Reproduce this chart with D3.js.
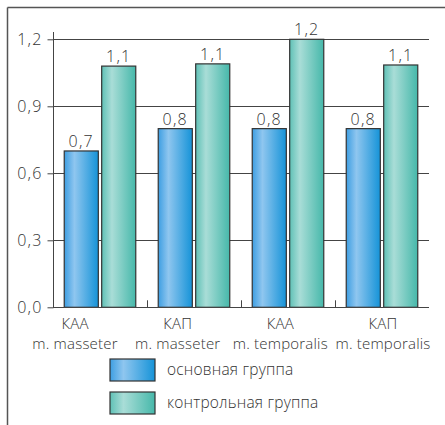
<!DOCTYPE html>
<html>
<head>
<meta charset="utf-8">
<script src="https://cdn.jsdelivr.net/npm/d3@7/dist/d3.min.js"></script>
<style>
  html, body { margin: 0; padding: 0; background: #fff; }
  svg { display: block; }
  text { font-family: "Open Sans", "Noto Sans", sans-serif; font-weight: 300; fill: #333; letter-spacing: 0.2px; }
  .num { letter-spacing: 1.2px; }
</style>
</head>
<body>
<svg id="chart" width="445" height="425"></svg>
<script>
// Categories (two-line labels) and the two groups
const categories = ["КАА|m. masseter", "КАП|m. masseter", "КАА|m. temporalis", "КАП|m. temporalis"];
const seriesNames = ["основная группа", "контрольная группа"];
const mainGroup = [0.70, 0.80, 0.80, 0.80];
const controlGroup = [1.08, 1.09, 1.20, 1.085];
const yTicks = [0, 0.3, 0.6, 0.9, 1.2];

const svg = d3.select("#chart");

// Gradients for the cylinder-like bar fill
const defs = svg.append("defs");
const gradients = [
  { id: "g0", stops: [[0, "#3d9ee2"], [0.3, "#8fc6ef"], [1, "#1593d8"]] },
  { id: "g1", stops: [[0, "#5fc1b6"], [0.3, "#a9ddd7"], [1, "#46b8aa"]] }
];
gradients.forEach(g => {
  const lg = defs.append("linearGradient").attr("id", g.id)
    .attr("x1", 0).attr("x2", 1).attr("y1", 0).attr("y2", 0);
  g.stops.forEach(s => lg.append("stop").attr("offset", s[0]).attr("stop-color", s[1]));
});

// Frame: top and left rule
svg.append("line").attr("x1", 7.5).attr("x2", 445).attr("y1", 7.5).attr("y2", 7.5)
  .attr("stroke", "#555").attr("stroke-width", 1.5);
svg.append("line").attr("x1", 7.5).attr("x2", 7.5).attr("y1", 7.5).attr("y2", 425)
  .attr("stroke", "#555").attr("stroke-width", 1.5);

const x0 = d3.scaleBand().domain(categories).range([53, 429]).paddingInner(0).paddingOuter(0);
const x1 = d3.scaleBand().domain(seriesNames).range([0, x0.bandwidth()]).paddingInner(0.09).paddingOuter(0.3);
const y = d3.scaleLinear().domain([0, 1.2]).range([307.3, 39.3]);
const fmt = v => d3.format(".1f")(v).replace(".", ",");

// Grid lines
svg.append("g").selectAll("line").data(yTicks.filter(d => d > 0)).join("line")
  .attr("x1", 53).attr("x2", 429)
  .attr("y1", d => Math.round(y(d)) + 0.5).attr("y2", d => Math.round(y(d)) + 0.5)
  .attr("stroke", "#444").attr("stroke-width", 1);

// Y axis
const yAxis = d3.axisLeft(y).tickValues(yTicks).tickFormat(fmt).tickSize(6).tickPadding(5);
const gy = svg.append("g").attr("transform", "translate(53.5,0)").call(yAxis);
gy.select(".domain").remove();
gy.selectAll(".tick line").attr("stroke", "#444");
gy.selectAll(".tick text").attr("class", "num").attr("font-size", 16).attr("fill", "#333")
  .attr("font-family", "'Open Sans', 'Noto Sans', sans-serif");
svg.append("line").attr("x1", 53.5).attr("x2", 53.5).attr("y1", 32).attr("y2", y(0))
  .attr("stroke", "#444");

// Bars
const rows = categories.map((c, i) => ({ cat: c, vals: [mainGroup[i], controlGroup[i]] }));
const grp = svg.append("g").selectAll("g").data(rows).join("g")
  .attr("transform", d => `translate(${x0(d.cat)},0)`);
grp.selectAll("rect").data(d => d.vals.map((v, k) => ({ v, k }))).join("rect")
  .attr("x", d => x1(seriesNames[d.k]))
  .attr("y", d => y(d.v))
  .attr("width", x1.bandwidth())
  .attr("height", d => y(0) - y(d.v))
  .attr("fill", d => `url(#g${d.k})`)
  .attr("stroke", "#333").attr("stroke-width", 1.2);
grp.selectAll("text").data(d => d.vals.map((v, k) => ({ v, k }))).join("text")
  .attr("class", "num")
  .attr("x", d => x1(seriesNames[d.k]) + x1.bandwidth() / 2)
  .attr("y", d => y(d.v) - 4)
  .attr("text-anchor", "middle").attr("font-size", 16)
  .text(d => fmt(d.v));

// X axis line and separators between groups
svg.append("line").attr("x1", 53).attr("x2", 429).attr("y1", Math.round(y(0)) + 0.5).attr("y2", Math.round(y(0)) + 0.5)
  .attr("stroke", "#444");
svg.append("g").selectAll("line").data(categories.slice(1)).join("line")
  .attr("x1", d => Math.round(x0(d)) + 0.5).attr("x2", d => Math.round(x0(d)) + 0.5)
  .attr("y1", y(0) - 7).attr("y2", y(0))
  .attr("stroke", "#444");

// Category labels
const xl = d3.scalePoint().domain(categories).range([75, 383]);
const lab = svg.append("g").selectAll("text").data(categories).join("text")
  .attr("text-anchor", "middle").attr("font-size", 15);
lab.append("tspan").attr("x", d => xl(d)).attr("y", 329).text(d => d.split("|")[0]);
lab.append("tspan").attr("x", d => xl(d)).attr("y", 348.5).text(d => d.split("|")[1]);

// Legend
const leg = svg.append("g").selectAll("g").data(seriesNames).join("g")
  .attr("transform", (d, i) => `translate(110,${359 + i * 33})`);
leg.append("rect").attr("width", 45).attr("height", 22)
  .attr("fill", (d, i) => `url(#g${i})`).attr("stroke", "#333").attr("stroke-width", 1.2);
leg.append("text").attr("x", 57).attr("y", 16).attr("font-size", 15.5).text(d => d);
</script>
</body>
</html>
